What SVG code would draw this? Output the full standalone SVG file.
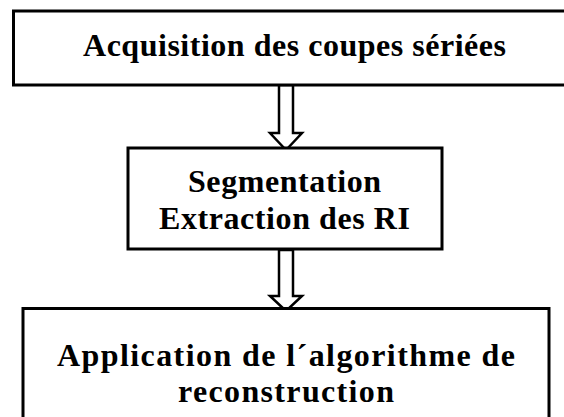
<svg xmlns="http://www.w3.org/2000/svg" width="564" height="417" viewBox="0 0 564 417">
<style>
.box{fill:#fff;stroke:#000;stroke-width:3}
.arr{fill:#fff;stroke:#000;stroke-width:2.5;stroke-linejoin:miter}
.t{font-family:"Liberation Serif","Times New Roman",serif;font-weight:bold;font-size:32px;fill:#000;text-anchor:middle}
</style>
<rect width="564" height="417" fill="#fff"/>
<g id="connectors">
<polygon class="arr" points="279,85 293,85 293,133 302,133 286,150 270,133 279,133"/>
<polygon class="arr" points="279,250 293,250 293,296 302,296 286,311 270,296 279,296"/>
</g>
<g id="n1">
<rect class="box" x="13.5" y="11" width="570" height="74"/>
<text class="t" x="294.5" y="56" textLength="423" lengthAdjust="spacing">Acquisition des coupes sériées</text>
</g>
<g id="n2">
<rect class="box" x="128" y="148" width="314" height="101"/>
<text class="t" x="284.5" y="192" textLength="193" lengthAdjust="spacing">Segmentation</text>
<text class="t" x="284.5" y="229" textLength="251" lengthAdjust="spacing">Extraction des RI</text>
</g>
<g id="n3">
<rect class="box" x="23" y="308.5" width="526" height="130"/>
<text class="t" x="286" y="366" textLength="458" lengthAdjust="spacing">Application de l´algorithme de</text>
<text class="t" x="286" y="402" textLength="216" lengthAdjust="spacing">reconstruction</text>
</g>
</svg>
